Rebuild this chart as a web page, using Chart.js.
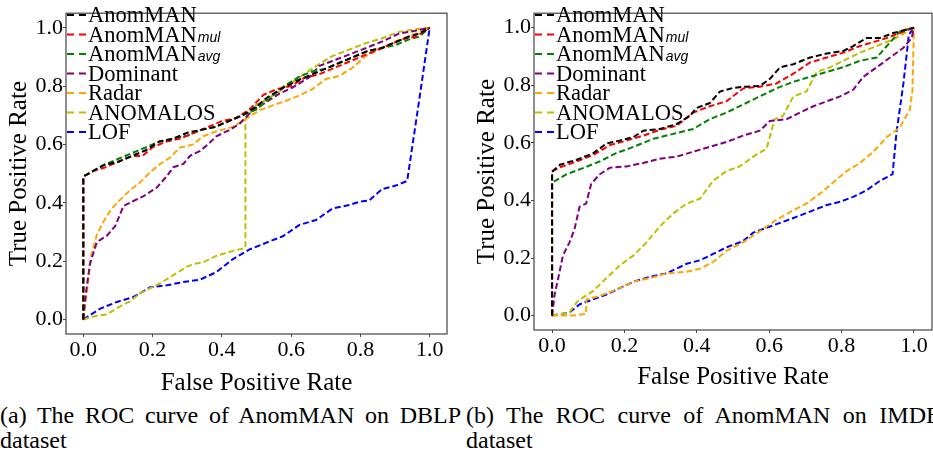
<!DOCTYPE html>
<html>
<head>
<meta charset="utf-8">
<script src="https://cdn.jsdelivr.net/npm/chart.js@4/dist/chart.umd.min.js"></script>
<style>
    html, body { margin: 0; padding: 0; background: #fff; overflow: hidden; }
    body { width: 933px; height: 454px; position: relative; font-family: "Liberation Serif", "Times New Roman", serif; }
    canvas { position: absolute; top: 0; }
    #chartDblp { left: 0; }
    #chartImdb { left: 460px; }
    .cap { position: absolute; top: 403px; font-size: 24px; line-height: 25px; color: #000; }
    .cap .l1 { text-align: justify; text-align-last: justify; white-space: nowrap; }
    .cap .l1 span { display: block; text-align: justify; text-align-last: justify; white-space: normal; }
</style>
</head>
<body>
<canvas id="chartDblp" width="460" height="400"></canvas>
<canvas id="chartImdb" width="473" height="400"></canvas>
<div class="cap" style="left:0;width:461px;"><div class="l1"><span>(a) The ROC curve of AnomMAN on DBLP</span></div><div>dataset</div></div>
<div class="cap" style="left:466px;width:476px;"><div class="l1"><span>(b) The ROC curve of AnomMAN on IMDB</span></div><div>dataset</div></div>
<script>
(function () {
    'use strict';

    var methodNames = ['AnomMAN', 'AnomMAN', 'AnomMAN', 'Dominant', 'Radar', 'ANOMALOS', 'LOF'];
    var methodSubs = ['', 'mul', 'avg', '', '', '', ''];
    var methodColors = ['#000000', '#ff0000', '#008000', '#800080', '#ffa500', '#bfbf00', '#0000ff'];
    var tickValues = [0, 0.2, 0.4, 0.6, 0.8, 1.0];

    // DBLP
    var dblpAnomManX = [0, 0, 0.03, 0.06, 0.10, 0.14, 0.18, 0.22, 0.26, 0.30, 0.34, 0.38, 0.42, 0.46, 0.50, 0.53, 0.57, 0.62, 0.66, 0.70, 0.74, 0.78, 0.82, 0.86, 0.90, 0.94, 0.97, 1.0];
    var dblpAnomManY = [0, 0.49, 0.51, 0.53, 0.54, 0.56, 0.58, 0.61, 0.62, 0.64, 0.65, 0.66, 0.68, 0.70, 0.73, 0.76, 0.79, 0.82, 0.84, 0.86, 0.88, 0.90, 0.92, 0.93, 0.95, 0.97, 0.98, 1.0];
    var dblpMulX = [0, 0, 0.03, 0.06, 0.10, 0.14, 0.17, 0.20, 0.24, 0.28, 0.32, 0.36, 0.40, 0.44, 0.48, 0.52, 0.56, 0.60, 0.64, 0.68, 0.72, 0.76, 0.80, 0.84, 0.88, 0.92, 0.96, 1.0];
    var dblpMulY = [0, 0.49, 0.51, 0.52, 0.54, 0.56, 0.56, 0.59, 0.61, 0.62, 0.64, 0.66, 0.68, 0.69, 0.72, 0.77, 0.79, 0.80, 0.83, 0.84, 0.86, 0.88, 0.90, 0.92, 0.94, 0.96, 0.97, 1.0];
    var dblpAvgX = [0, 0, 0.03, 0.06, 0.10, 0.14, 0.18, 0.22, 0.26, 0.30, 0.34, 0.38, 0.42, 0.46, 0.50, 0.54, 0.58, 0.62, 0.66, 0.70, 0.74, 0.78, 0.82, 0.86, 0.90, 0.94, 0.97, 1.0];
    var dblpAvgY = [0, 0.49, 0.51, 0.53, 0.55, 0.57, 0.59, 0.61, 0.62, 0.63, 0.65, 0.66, 0.68, 0.70, 0.72, 0.76, 0.80, 0.83, 0.85, 0.86, 0.88, 0.90, 0.92, 0.93, 0.94, 0.96, 0.97, 1.0];
    var dblpDominantX = [0, 0.007, 0.019, 0.039, 0.068, 0.092, 0.116, 0.145, 0.174, 0.212, 0.241, 0.26, 0.289, 0.308, 0.336, 0.36, 0.384, 0.423, 0.452, 0.471, 0.49, 0.528, 0.566, 0.605, 0.652, 0.681, 0.719, 0.767, 0.815, 0.863, 0.911, 0.959, 1.0];
    var dblpDominantY = [0, 0.087, 0.19, 0.265, 0.287, 0.32, 0.389, 0.406, 0.423, 0.452, 0.491, 0.522, 0.533, 0.561, 0.577, 0.6, 0.628, 0.65, 0.672, 0.695, 0.718, 0.745, 0.774, 0.796, 0.83, 0.869, 0.886, 0.908, 0.93, 0.953, 0.98, 0.99, 1.0];
    var dblpRadarX = [0, 0.011, 0.023, 0.039, 0.058, 0.082, 0.106, 0.135, 0.164, 0.193, 0.222, 0.25, 0.279, 0.317, 0.346, 0.384, 0.432, 0.471, 0.51, 0.547, 0.586, 0.624, 0.662, 0.7, 0.739, 0.777, 0.815, 0.863, 0.911, 0.959, 1.0];
    var dblpRadarY = [0, 0.10, 0.22, 0.29, 0.335, 0.38, 0.41, 0.443, 0.47, 0.505, 0.533, 0.555, 0.589, 0.6, 0.628, 0.645, 0.66, 0.689, 0.718, 0.734, 0.75, 0.768, 0.79, 0.824, 0.835, 0.863, 0.903, 0.93, 0.958, 0.98, 1.0];
    var dblpAnomalosX = [0, 0.039, 0.068, 0.106, 0.135, 0.164, 0.193, 0.222, 0.26, 0.298, 0.317, 0.346, 0.384, 0.432, 0.468, 0.468, 0.5, 0.528, 0.576, 0.624, 0.672, 0.719, 0.767, 0.815, 0.863, 0.911, 0.959, 1.0];
    var dblpAnomalosY = [0, 0.013, 0.017, 0.045, 0.062, 0.09, 0.107, 0.124, 0.152, 0.18, 0.19, 0.196, 0.218, 0.235, 0.245, 0.686, 0.736, 0.753, 0.79, 0.83, 0.869, 0.903, 0.925, 0.947, 0.964, 0.986, 0.995, 1.0];
    var dblpLofX = [0, 0.049, 0.097, 0.145, 0.193, 0.241, 0.289, 0.336, 0.384, 0.432, 0.48, 0.528, 0.576, 0.624, 0.672, 0.719, 0.767, 0.796, 0.825, 0.863, 0.902, 0.935, 0.968, 1.0];
    var dblpLofY = [0, 0.037, 0.06, 0.077, 0.11, 0.117, 0.128, 0.136, 0.162, 0.207, 0.24, 0.263, 0.285, 0.324, 0.341, 0.38, 0.392, 0.403, 0.408, 0.447, 0.459, 0.475, 0.738, 1.0];

    // IMDB
    var imdbAnomManX = [0, 0, 0.022, 0.068, 0.114, 0.151, 0.188, 0.225, 0.252, 0.298, 0.344, 0.381, 0.399, 0.436, 0.464, 0.501, 0.538, 0.574, 0.602, 0.63, 0.667, 0.713, 0.759, 0.805, 0.832, 0.869, 0.906, 0.943, 1.0];
    var imdbAnomManY = [0, 0.50, 0.524, 0.541, 0.564, 0.598, 0.608, 0.62, 0.642, 0.648, 0.665, 0.693, 0.721, 0.738, 0.778, 0.791, 0.795, 0.797, 0.822, 0.862, 0.873, 0.896, 0.91, 0.919, 0.936, 0.964, 0.964, 0.981, 1.0];
    var imdbMulX = [0, 0, 0.022, 0.068, 0.114, 0.16, 0.206, 0.252, 0.298, 0.344, 0.39, 0.436, 0.482, 0.528, 0.574, 0.62, 0.667, 0.713, 0.759, 0.805, 0.851, 0.897, 0.925, 1.0];
    var imdbMulY = [0, 0.50, 0.515, 0.535, 0.558, 0.592, 0.608, 0.625, 0.645, 0.659, 0.705, 0.727, 0.744, 0.789, 0.795, 0.806, 0.84, 0.879, 0.896, 0.913, 0.936, 0.953, 0.964, 1.0];
    var imdbAvgX = [0, 0, 0.039, 0.085, 0.131, 0.177, 0.225, 0.28, 0.335, 0.39, 0.436, 0.482, 0.528, 0.574, 0.62, 0.667, 0.713, 0.759, 0.805, 0.851, 0.897, 0.925, 0.961, 1.0];
    var imdbAvgY = [0, 0.462, 0.49, 0.512, 0.535, 0.564, 0.586, 0.614, 0.631, 0.648, 0.682, 0.705, 0.733, 0.761, 0.789, 0.812, 0.829, 0.846, 0.863, 0.885, 0.896, 0.936, 0.986, 1.0];
    var imdbDominantX = [0, 0.007, 0.017, 0.03, 0.048, 0.062, 0.076, 0.094, 0.108, 0.131, 0.159, 0.206, 0.252, 0.298, 0.344, 0.39, 0.436, 0.482, 0.528, 0.574, 0.602, 0.648, 0.685, 0.722, 0.759, 0.796, 0.832, 0.86, 0.897, 0.934, 0.971, 0.994, 1.0];
    var imdbDominantY = [0, 0.073, 0.13, 0.209, 0.254, 0.3, 0.378, 0.389, 0.457, 0.49, 0.513, 0.518, 0.53, 0.545, 0.552, 0.569, 0.586, 0.603, 0.625, 0.642, 0.676, 0.682, 0.705, 0.727, 0.744, 0.761, 0.784, 0.829, 0.862, 0.896, 0.93, 0.964, 1.0];
    var imdbRadarX = [0, 0.058, 0.094, 0.095, 0.131, 0.177, 0.225, 0.271, 0.317, 0.372, 0.409, 0.445, 0.482, 0.528, 0.574, 0.62, 0.667, 0.703, 0.74, 0.777, 0.814, 0.851, 0.888, 0.925, 0.961, 0.989, 0.996, 1.0];
    var imdbRadarY = [0, 0, 0.006, 0.056, 0.068, 0.09, 0.118, 0.13, 0.147, 0.152, 0.163, 0.186, 0.225, 0.254, 0.293, 0.333, 0.366, 0.389, 0.423, 0.462, 0.502, 0.53, 0.569, 0.62, 0.653, 0.716, 0.783, 1.0];
    var imdbAnomalosX = [0, 0.048, 0.071, 0.113, 0.15, 0.188, 0.225, 0.261, 0.298, 0.335, 0.372, 0.409, 0.445, 0.482, 0.519, 0.556, 0.593, 0.615, 0.638, 0.667, 0.703, 0.731, 0.768, 0.805, 0.851, 0.897, 0.943, 1.0];
    var imdbAnomalosY = [0, 0.011, 0.051, 0.085, 0.13, 0.175, 0.209, 0.254, 0.31, 0.355, 0.389, 0.406, 0.468, 0.502, 0.518, 0.552, 0.58, 0.682, 0.693, 0.761, 0.778, 0.846, 0.862, 0.885, 0.913, 0.936, 0.959, 1.0];
    var imdbLofX = [0, 0.048, 0.076, 0.113, 0.15, 0.188, 0.225, 0.271, 0.317, 0.372, 0.409, 0.445, 0.482, 0.528, 0.556, 0.593, 0.63, 0.667, 0.713, 0.759, 0.796, 0.832, 0.869, 0.906, 0.941, 0.952, 0.971, 0.986, 1.0];
    var imdbLofY = [0, 0.011, 0.039, 0.056, 0.073, 0.096, 0.118, 0.135, 0.147, 0.18, 0.192, 0.214, 0.237, 0.259, 0.288, 0.305, 0.322, 0.339, 0.361, 0.384, 0.395, 0.412, 0.435, 0.468, 0.491, 0.637, 0.806, 0.975, 1.0];

    var dblpSeries = [
        [dblpAnomManX, dblpAnomManY], [dblpMulX, dblpMulY], [dblpAvgX, dblpAvgY],
        [dblpDominantX, dblpDominantY], [dblpRadarX, dblpRadarY], [dblpAnomalosX, dblpAnomalosY], [dblpLofX, dblpLofY]
    ];
    var imdbSeries = [
        [imdbAnomManX, imdbAnomManY], [imdbMulX, imdbMulY], [imdbAvgX, imdbAvgY],
        [imdbDominantX, imdbDominantY], [imdbRadarX, imdbRadarY], [imdbAnomalosX, imdbAnomalosY], [imdbLofX, imdbLofY]
    ];

    var serif = '"Liberation Serif", "Times New Roman", serif';
    var frameColor = '#444';

    function toPoints(xs, ys) {
        return xs.map(function (x, i) { return { x: x, y: ys[i] }; });
    }

    function buildDatasets(series) {
        return series.map(function (s, i) {
            return {
                label: methodNames[i] + (methodSubs[i] ? '_' + methodSubs[i] : ''),
                data: toPoints(s[0], s[1]),
                borderColor: methodColors[i],
                borderWidth: 2,
                borderDash: [6, 3],
                pointRadius: 0,
                tension: 0,
                fill: false
            };
        });
    }

    // frame round the plot area, like the matplotlib spines
    var framePlugin = {
        id: 'frame',
        afterDatasetsDraw: function (chart) {
            var a = chart.chartArea;
            var ctx = chart.ctx;
            ctx.save();
            ctx.strokeStyle = frameColor;
            ctx.lineWidth = 1.2;
            ctx.setLineDash([]);
            ctx.strokeRect(a.left, a.top, a.right - a.left, a.bottom - a.top);
            ctx.restore();
        }
    };

    // legend with the italic subscripts
    var rocLegend = {
        id: 'rocLegend',
        afterDraw: function (chart, args, opts) {
            var ctx = chart.ctx;
            var a = chart.chartArea;
            ctx.save();
            chart.data.datasets.forEach(function (ds, i) {
                var y = opts.top + i * opts.step;
                var x0 = a.left + opts.dx;
                ctx.strokeStyle = ds.borderColor;
                ctx.lineWidth = 2;
                ctx.setLineDash([7, 5]);
                ctx.beginPath();
                ctx.moveTo(x0, y);
                ctx.lineTo(x0 + 20, y);
                ctx.stroke();
                ctx.setLineDash([]);

                ctx.fillStyle = '#000';
                ctx.textBaseline = 'alphabetic';
                ctx.textAlign = 'left';
                ctx.font = '22.5px ' + serif;
                var tx = x0 + 21;
                var base = y + 7;
                ctx.fillText(methodNames[i], tx, base);
                if (methodSubs[i]) {
                    var w = ctx.measureText(methodNames[i]).width;
                    ctx.font = 'italic 14px "Liberation Sans", Arial, sans-serif';
                    ctx.fillText(methodSubs[i], tx + w + 1, base);
                }
            });
            ctx.restore();
        }
    };

    function mountChart(id, series, box) {
        var canvas = document.getElementById(id);
        return new Chart(canvas, {
            type: 'line',
            data: { datasets: buildDatasets(series) },
            plugins: [framePlugin, rocLegend],
            options: {
                responsive: false,
                animation: false,
                layout: { padding: { left: 0, right: box.padRight, top: box.padTop, bottom: 0 } },
                plugins: {
                    legend: { display: false },
                    tooltip: { enabled: false },
                    rocLegend: { dx: 1, top: 15, step: 19.5 }
                },
                scales: {
                    x: {
                        type: 'linear',
                        min: -0.05,
                        max: 1.05,
                        afterBuildTicks: function (s) { s.ticks = tickValues.map(function (v) { return { value: v }; }); },
                        afterFit: function (s) { s.height = box.xHeight; },
                        grid: { display: true, drawOnChartArea: false, drawTicks: true, tickLength: 3, color: frameColor },
                        border: { display: false },
                        ticks: {
                            padding: 0,
                            maxRotation: 0,
                            color: '#000',
                            font: { family: serif, size: 22, lineHeight: 1.2 },
                            callback: function (v) { return Number(v).toFixed(1); }
                        },
                        title: {
                            display: true,
                            text: 'False Positive Rate',
                            color: '#000',
                            font: { family: serif, size: 25, lineHeight: 1.2 },
                            padding: { top: 0, bottom: box.xTitlePad }
                        }
                    },
                    y: {
                        type: 'linear',
                        min: -0.05,
                        max: 1.05,
                        afterBuildTicks: function (s) { s.ticks = tickValues.map(function (v) { return { value: v }; }); },
                        afterFit: function (s) { s.width = box.yWidth; },
                        grid: { display: true, drawOnChartArea: false, drawTicks: true, tickLength: 3, color: frameColor },
                        border: { display: false },
                        ticks: {
                            padding: 0,
                            color: '#000',
                            font: { family: serif, size: 22, lineHeight: 1.2 },
                            callback: function (v) { return Number(v).toFixed(1); }
                        },
                        title: {
                            display: true,
                            text: 'True Positive Rate',
                            color: '#000',
                            font: { family: serif, size: 25, lineHeight: 1.2 },
                            padding: { top: box.yTitlePad, bottom: 0 }
                        }
                    }
                }
            }
        });
    }

    mountChart('chartDblp', dblpSeries, { padRight: 13, padTop: 7, xHeight: 66, yWidth: 66, xTitlePad: 2, yTitlePad: 4 });
    mountChart('chartImdb', imdbSeries, { padRight: 1, padTop: 4, xHeight: 70, yWidth: 74, xTitlePad: 8, yTitlePad: 12 });
})();
</script>
</body>
</html>
